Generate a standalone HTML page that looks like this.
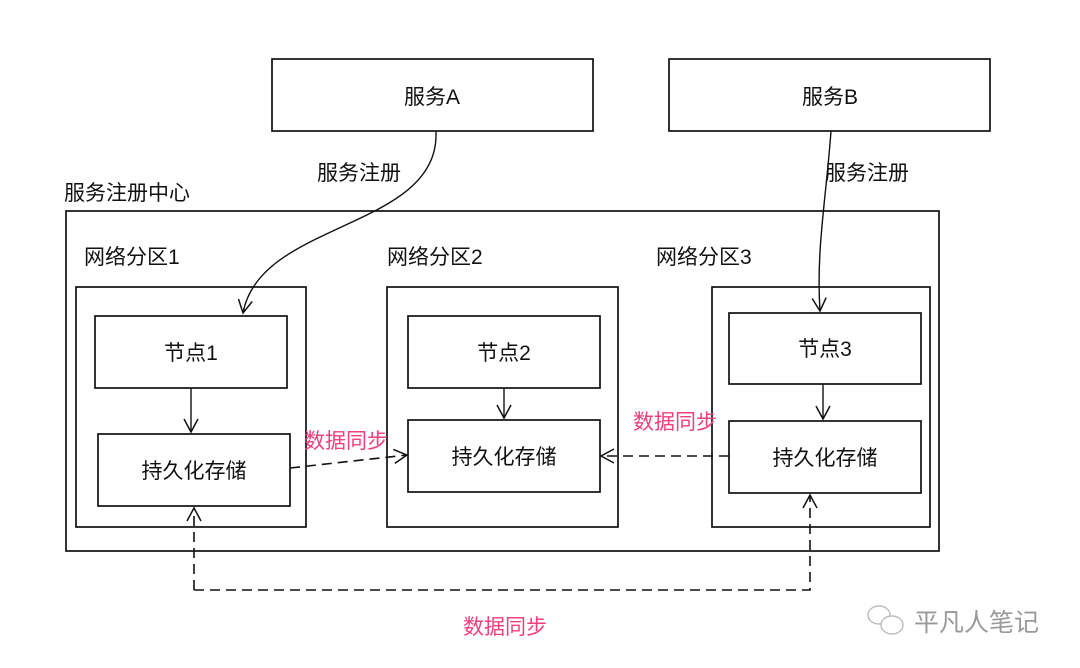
<!DOCTYPE html>
<html><head><meta charset="utf-8"><style>
html,body{margin:0;padding:0;background:#fff;}
svg{display:block;}
text{font-family:"Liberation Sans","Noto Sans CJK SC",sans-serif;font-size:21px;fill:#111;}
.p{fill:#f0407a;}
</style></head><body>
<svg width="1080" height="668" viewBox="0 0 1080 668">
<defs>
<marker id="a" markerWidth="18" markerHeight="18" refX="14" refY="8" orient="auto" markerUnits="userSpaceOnUse">
<path d="M1,1 L14,8 L1,15" fill="none" stroke="#111" stroke-width="1.5"/>
</marker>
</defs>
<g fill="none" stroke="#111" stroke-width="1.7">
<rect x="272" y="59" width="321" height="72"/>
<rect x="669" y="59" width="321" height="72"/>
<rect x="66" y="211" width="873" height="340"/>
<rect x="76" y="287" width="230" height="240"/>
<rect x="95" y="316" width="192" height="72"/>
<rect x="98" y="434" width="192" height="72"/>
<rect x="387" y="287" width="231" height="240"/>
<rect x="408" y="316" width="192" height="72"/>
<rect x="408" y="420" width="192" height="72"/>
<rect x="712" y="287" width="218" height="240"/>
<rect x="729" y="313" width="192" height="71"/>
<rect x="729" y="421" width="192" height="72"/>
</g>
<g fill="none" stroke="#111" stroke-width="1.4" marker-end="url(#a)">
<path d="M436,131 C440,230 260,220 243,313"/>
<path d="M831,131 C826,200 816,250 820,311"/>
<path d="M191,388 L191,432"/>
<path d="M504,388 L504,418"/>
<path d="M823,384 L823,419"/>
</g>
<g fill="none" stroke="#111" stroke-width="1.6" stroke-dasharray="10,6" marker-end="url(#a)">
<path d="M290,468 L407,455"/>
<path d="M729,456 L601,456"/>
<path d="M194,590 L194,508"/>
<path d="M194,590 L810,590 L810,495"/>
</g>
<text x="432" y="104" text-anchor="middle">服务A</text>
<text x="830" y="104" text-anchor="middle">服务B</text>
<text x="359" y="180" text-anchor="middle">服务注册</text>
<text x="867" y="180" text-anchor="middle">服务注册</text>
<text x="64" y="200">服务注册中心</text>
<text x="84" y="264">网络分区1</text>
<text x="387" y="264">网络分区2</text>
<text x="656" y="264">网络分区3</text>
<text x="191" y="360" text-anchor="middle">节点1</text>
<text x="504" y="360" text-anchor="middle">节点2</text>
<text x="825" y="356" text-anchor="middle">节点3</text>
<text x="194" y="478" text-anchor="middle">持久化存储</text>
<text x="504" y="464" text-anchor="middle">持久化存储</text>
<text x="825" y="465" text-anchor="middle">持久化存储</text>
<text class="p" x="346" y="448" text-anchor="middle">数据同步</text>
<text class="p" x="675" y="429" text-anchor="middle">数据同步</text>
<text class="p" x="505" y="634" text-anchor="middle">数据同步</text>
<g fill="none" stroke="#bbb" stroke-width="1.4">
<ellipse cx="879" cy="615" rx="11" ry="9"/>
<ellipse cx="892" cy="625" rx="11" ry="9" fill="#fff"/>
</g>
<text x="914" y="631" style="fill:#999;font-size:25px">平凡人笔记</text>
</svg>
</body></html>
